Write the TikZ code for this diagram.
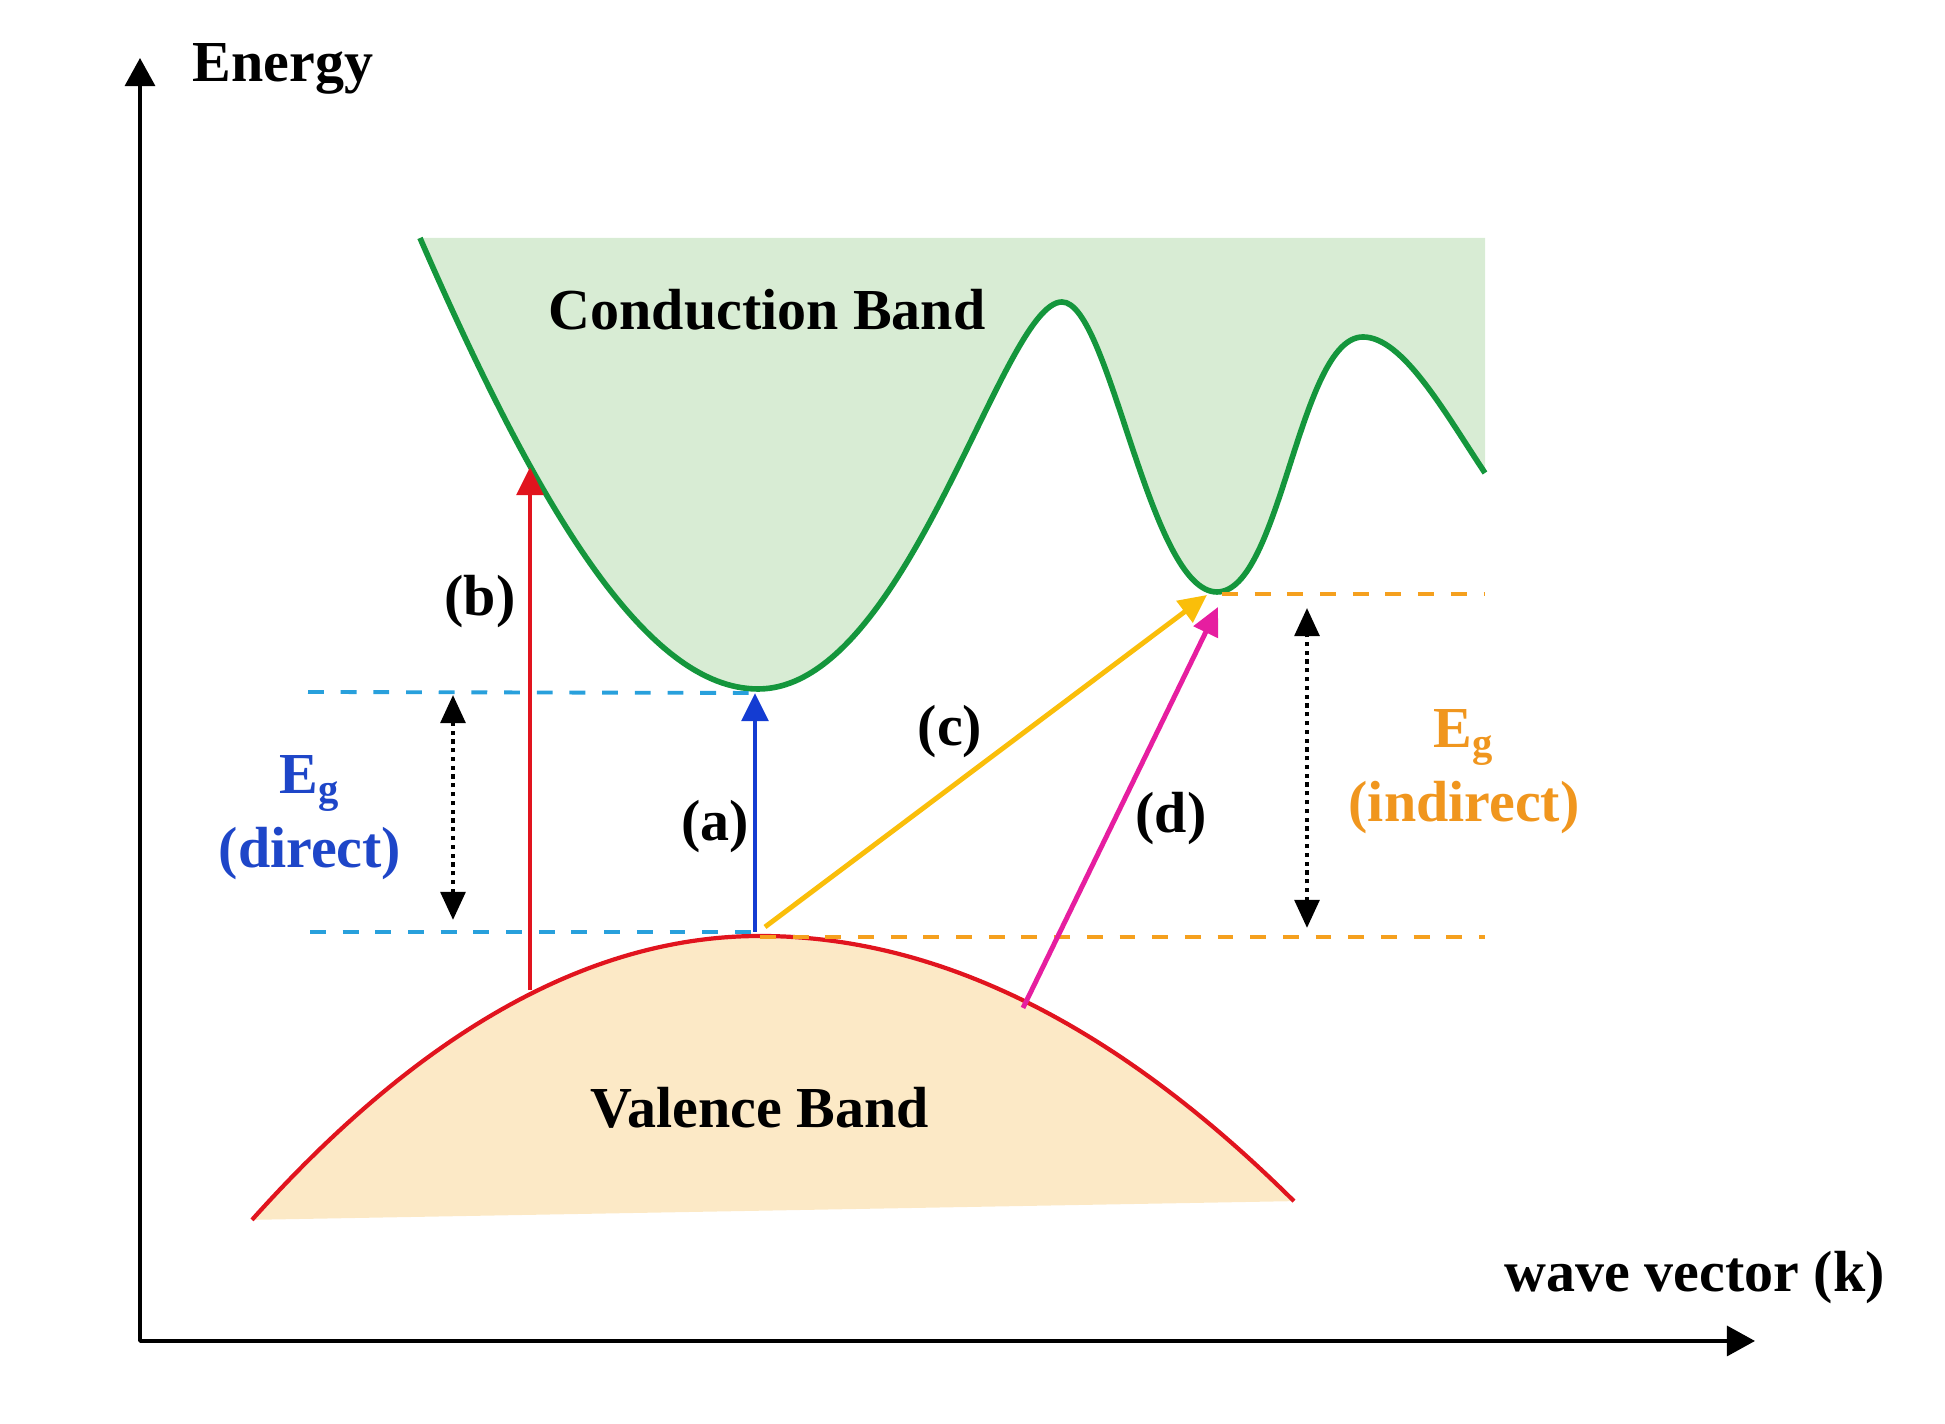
\documentclass[tikz,border=0pt]{standalone}
\usepackage{fontspec}
\setmainfont{Liberation Serif}
\usetikzlibrary{arrows.meta}
\definecolor{cbfill}{RGB}{216,236,212}
\definecolor{cbline}{RGB}{20,150,60}
\definecolor{vbfill}{RGB}{252,233,198}
\definecolor{vbline}{RGB}{225,20,30}
\definecolor{dirblue}{RGB}{40,160,220}
\definecolor{indorange}{RGB}{245,160,30}
\definecolor{arrblue}{RGB}{20,60,210}
\definecolor{arryellow}{RGB}{250,190,10}
\definecolor{arrmagenta}{RGB}{230,30,160}
\definecolor{txtblue}{RGB}{30,70,200}
\definecolor{txtorange}{RGB}{240,150,30}
\begin{document}
\begin{tikzpicture} [font=\fontsize{16.5}{21}\selectfont\bfseries, inner sep=0pt, line join=round, >={Triangle[width=7.5pt,length=8pt]},
 level/.style={line width=1.1pt, dash pattern=on 4.5pt off 4.8pt},
 trans/.style={->, line width=1.4pt},
 gapsize/.style={<->, line width=1.2pt, dash pattern=on 1.2pt off 1.3pt, >={Triangle[width=7pt,length=8pt]}}]
 \useasboundingbox (0,0) rectangle (19.45,14.24);
 \def\cbpath{(4.20,11.86) .. controls (5.40,9.10) and (6.48,7.35) .. (7.58,7.35)
  .. controls (9.08,7.35) and (10.02,11.22) .. (10.62,11.22)
  .. controls (11.10,11.22) and (11.49,8.32) .. (12.17,8.32)
  .. controls (12.81,8.32) and (12.99,10.87) .. (13.63,10.87)
  .. controls (14.03,10.87) and (14.45,10.11) .. (14.85,9.51)}
 \def\vbpath{plot[domain=2.52:7.60, samples=60] (\x,{4.88-0.11*(\x-7.6)^2})
  -- plot[domain=7.60:12.94, samples=60] (\x,{4.88-0.093*(\x-7.6)^2})}
 \fill[cbfill] \cbpath -- (14.85,11.86) -- cycle;
 \fill[vbfill] \vbpath -- cycle;
 \draw[cbline, line width=1.6pt] \cbpath;
 \draw[vbline, line width=1.2pt] \vbpath;
 \coordinate (O) at (1.40,0.83);
 \coordinate (ytop) at (1.40,13.66);
 \coordinate (xend) at (17.55,0.83);
 \draw[line width=1.1pt, >={Triangle[width=8.5pt,length=8pt]}, <->] (ytop) -- (O) -- (xend);
 \node[anchor=base west] (energy) at (1.92,13.42) {Energy};
 \node[anchor=base west] (kvec) at (15.04,1.32) {wave vector (k)};
 \node[anchor=base west] (cb) at (5.48,10.94) {Conduction Band};
 \node[anchor=base west] (vb) at (5.90,2.96) {Valence Band};
 \coordinate (cbmin) at (7.55,7.31);
 \coordinate (vbmax) at (7.55,4.92);
 \coordinate (cbind) at (12.22,8.30);
 \coordinate (vbind) at (7.60,4.87);
 \draw[level, dirblue] (3.08,7.32) -- (cbmin);
 \draw[level, dirblue] (3.10,4.92) -- (vbmax);
 \draw[level, indorange] (cbind) -- (14.85,8.30);
 \draw[level, indorange] (vbind) -- (14.85,4.87);
 \coordinate (b0) at (5.30,4.34);
 \coordinate (b1) at (5.30,9.57);
 \coordinate (c0) at (7.65,4.97);
 \coordinate (c1) at (12.07,8.29);
 \coordinate (d0) at (10.23,4.16);
 \coordinate (d1) at (12.18,8.17);
 \draw[trans, vbline] (b0) -- (b1);
 \draw[trans, arrblue] (vbmax) -- (cbmin);
 \draw[trans, arryellow] (c0) -- (c1);
 \draw[trans, arrmagenta] (d0) -- (d1);
 \coordinate (gd0) at (4.53,5.04);
 \coordinate (gd1) at (4.53,7.29);
 \coordinate (gi0) at (13.07,4.96);
 \coordinate (gi1) at (13.07,8.16);
 \draw[gapsize] (gd0) -- (gd1);
 \draw[gapsize] (gi0) -- (gi1);
 \node (lb) at (4.80,8.22) {(b)};
 \node (la) at (7.15,5.97) {(a)};
 \node (lc) at (9.50,6.92) {(c)};
 \node (ld) at (11.71,6.05) {(d)};
 \node[align=center, txtblue] (egdir) at (3.10,6.06) {E\textsubscript{g}\\(direct)};
 \node[align=center, txtorange] (egind) at (14.64,6.52) {E\textsubscript{g}\\(indirect)};
\end{tikzpicture}
\end{document}
